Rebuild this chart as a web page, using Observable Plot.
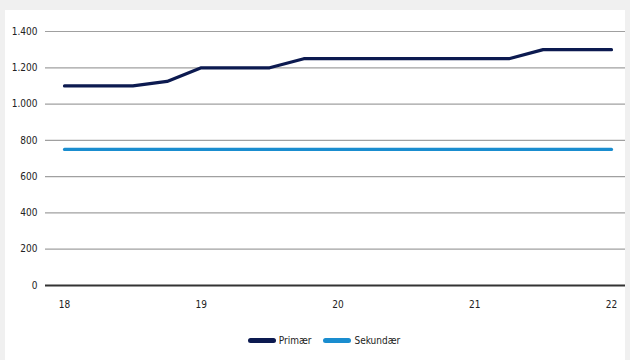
<!DOCTYPE html>
<html>
<head>
<meta charset="utf-8">
<script src="https://cdn.jsdelivr.net/npm/d3@7"></script>
<script src="https://cdn.jsdelivr.net/npm/@observablehq/plot@0.6"></script>
<style>
  html, body { margin: 0; padding: 0; background: #f0f0f0; }
  #wrap { position: relative; width: 630px; height: 360px; overflow: hidden; }
  #panel { position: absolute; left: 5px; top: 10px; width: 620px; height: 350px; background: #fff; }
  #chart { position: absolute; left: 0; top: 0; }
  #legend { position: absolute; top: 335px; left: 9px; width: 630px; display: flex; justify-content: center; gap: 12px;
    font-family: "DejaVu Sans Condensed", "DejaVu Sans", sans-serif; font-stretch: condensed; font-size: 10px; color: #222; }
  .item { display: flex; align-items: center; gap: 3px; }
  .sw { width: 28px; height: 5px; border-radius: 3px; }
</style>
</head>
<body>
<div id="wrap">
  <div id="panel"></div>
  <div id="chart"></div>
  <div id="legend"></div>
</div>
<script>
const years = [18, 18.25, 18.5, 18.75, 19, 19.25, 19.5, 19.75, 20, 20.25, 20.5, 20.75, 21, 21.25, 21.5, 21.75, 22];
const primaer = [1100, 1100, 1100, 1125, 1200, 1200, 1200, 1250, 1250, 1250, 1250, 1250, 1250, 1250, 1300, 1300, 1300];
const sekundaer = [750, 750, 750, 750, 750, 750, 750, 750, 750, 750, 750, 750, 750, 750, 750, 750, 750];
const seriesNames = ["Primær", "Sekundær"];
const seriesColors = ["#0c1a50", "#1a8dcf"];
const xTicks = [18, 19, 20, 21, 22];
const yTicks = [0, 200, 400, 600, 800, 1000, 1200, 1400];

const data = [];
years.forEach((x, i) => {
  data.push({x, y: primaer[i], s: seriesNames[0]});
  data.push({x, y: sekundaer[i], s: seriesNames[1]});
});

const loc = d3.formatLocale({decimal: ",", thousands: ".", grouping: [3], currency: ["", " kr"]});
const fmt = loc.format(",");

const plot = Plot.plot({
  width: 630,
  height: 320,
  marginLeft: 64,
  marginRight: 19,
  marginTop: 31,
  marginBottom: 35,
  style: {fontFamily: '"DejaVu Sans Condensed", "DejaVu Sans", sans-serif', fontStretch: "condensed", fontSize: "10px", color: "#222", background: "transparent"},
  x: {domain: [18, 22], ticks: xTicks, tickSize: 0, tickPadding: 15, tickFormat: d => String(d), label: null},
  y: {domain: [0, 1400], ticks: yTicks, tickSize: 0, tickPadding: 27, tickFormat: fmt, label: null},
  color: {domain: seriesNames, range: seriesColors},
  marks: [
    Plot.ruleY(yTicks.filter(d => d > 0), {stroke: "#a0a0a0", strokeWidth: 1.2, insetLeft: -19, insetRight: -14}),
    Plot.ruleY([0], {stroke: "#333", strokeWidth: 1.8, insetLeft: -19, insetRight: -14}),
    Plot.line(data, {x: "x", y: "y", z: "s", stroke: "s", strokeWidth: 3.2, strokeLinejoin: "round"})
  ]
});
document.getElementById("chart").appendChild(plot);

const legend = document.getElementById("legend");
seriesNames.forEach((n, i) => {
  const it = document.createElement("div");
  it.className = "item";
  const sw = document.createElement("span");
  sw.className = "sw";
  sw.style.background = seriesColors[i];
  const t = document.createElement("span");
  t.textContent = n;
  it.appendChild(sw); it.appendChild(t);
  legend.appendChild(it);
});
</script>
</body>
</html>
